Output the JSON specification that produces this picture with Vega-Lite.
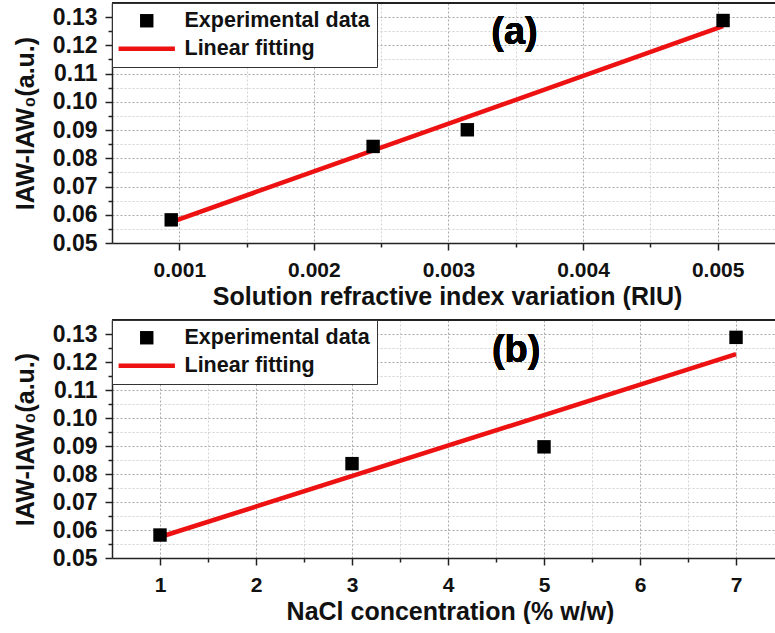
{
  "$schema": "https://vega.github.io/schema/vega-lite/v6.json",
  "padding": {"left": 13, "top": 2, "right": 0, "bottom": 0},
  "spacing": 10,
  "datasets": {
    "a": [
      {"series": "Experimental data", "x": 0.00094, "y": 0.0582},
      {"series": "Experimental data", "x": 0.00244, "y": 0.0842},
      {"series": "Experimental data", "x": 0.00314, "y": 0.0901},
      {"series": "Experimental data", "x": 0.00504, "y": 0.1288},
      {"series": "Linear fitting", "x": 0.00094, "y": 0.0574},
      {"series": "Linear fitting", "x": 0.00504, "y": 0.1268}
    ],
    "b": [
      {"series": "Experimental data", "x": 1, "y": 0.0582},
      {"series": "Experimental data", "x": 3, "y": 0.0837},
      {"series": "Experimental data", "x": 5, "y": 0.0897},
      {"series": "Experimental data", "x": 7, "y": 0.1288},
      {"series": "Linear fitting", "x": 1, "y": 0.0575},
      {"series": "Linear fitting", "x": 7, "y": 0.1228}
    ]
  },
  "vconcat": [
    {
      "width": 668,
      "height": 240,
      "view": {"stroke": null},
      "data": {"name": "a"},
      "encoding": {
        "x": {
          "field": "x", "type": "quantitative",
          "scale": {"domain": [0.0005, 0.005463], "nice": false, "zero": false},
          "axis": {
            "title": "Solution refractive index variation (RIU)",
            "titleX": 335,
            "grid": true,
            "labelOverlap": false,
            "values": [0.001, 0.0015, 0.002, 0.0025, 0.003, 0.0035, 0.004, 0.0045, 0.005],
            "labelExpr": "abs(datum.value*1000 - round(datum.value*1000)) < 0.01 ? format(datum.value, '.3f') : ''",
            "tickSize": {"condition": {"test": "abs(datum.value*1000 - round(datum.value*1000)) < 0.01", "value": 7}, "value": 4},
            "gridColor": {"condition": {"test": "abs(datum.value*1000 - round(datum.value*1000)) < 0.01", "value": "#a8a8a8"}, "value": "#d2d2d2"}
          }
        },
        "y": {
          "field": "y", "type": "quantitative",
          "scale": {"domain": [0.05, 0.135], "nice": false, "zero": false},
          "axis": {
            "title": "IAW-IAW₀(a.u.)",
            "grid": true,
            "labelOverlap": false,
            "values": [0.05, 0.055, 0.06, 0.065, 0.07, 0.075, 0.08, 0.085, 0.09, 0.095, 0.1, 0.105, 0.11, 0.115, 0.12, 0.125, 0.13],
            "labelExpr": "abs(datum.value*100 - round(datum.value*100)) < 0.01 ? format(datum.value, '.2f') : ''",
            "tickSize": {"condition": {"test": "abs(datum.value*100 - round(datum.value*100)) < 0.01", "value": 7}, "value": 4},
            "gridColor": {"condition": {"test": "abs(datum.value*100 - round(datum.value*100)) < 0.01", "value": "#a8a8a8"}, "value": "#d2d2d2"}
          }
        }
      },
      "layer": [
        {
          "transform": [{"filter": "datum.series === 'Linear fitting'"}],
          "mark": {"type": "line", "color": "#ee1111", "strokeWidth": 4.5}
        },
        {
          "transform": [{"filter": "datum.series === 'Experimental data'"}],
          "mark": {"type": "point", "filled": true, "size": 180, "opacity": 1},
          "encoding": {
            "color": {
              "field": "series", "type": "nominal",
              "scale": {"domain": ["Experimental data", "Linear fitting"], "range": ["#000000", "#ee1111"]},
              "legend": {"title": null}
            },
            "shape": {
              "field": "series", "type": "nominal",
              "scale": {"domain": ["Experimental data", "Linear fitting"], "range": ["square", "M-4.2,-0.32H4.2V0.32H-4.2Z"]},
              "legend": {"title": null}
            }
          }
        },
        {
          "mark": {"type": "rule", "color": "#222", "strokeWidth": 1.5},
          "encoding": {"x": null, "y": {"datum": 0.135, "type": "quantitative"}}
        },
        {
          "mark": {"type": "text", "text": "(a)", "fontSize": 38, "fontWeight": "bold", "color": "#000", "align": "center", "baseline": "middle"},
          "encoding": {
            "x": {"datum": 0.00349, "type": "quantitative"},
            "y": {"datum": 0.1245, "type": "quantitative"}
          }
        }
      ]
    },
    {
      "width": 668,
      "height": 238,
      "view": {"stroke": null},
      "data": {"name": "b"},
      "encoding": {
        "x": {
          "field": "x", "type": "quantitative",
          "scale": {"domain": [0.5, 7.458], "nice": false, "zero": false},
          "axis": {
            "title": "NaCl concentration (% w/w)",
            "titleX": 338,
            "grid": true,
            "labelOverlap": false,
            "values": [1, 1.5, 2, 2.5, 3, 3.5, 4, 4.5, 5, 5.5, 6, 6.5, 7],
            "labelExpr": "datum.value % 1 == 0 ? format(datum.value, 'd') : ''",
            "tickSize": {"condition": {"test": "datum.value % 1 == 0", "value": 7}, "value": 4},
            "gridColor": {"condition": {"test": "datum.value % 1 == 0", "value": "#a8a8a8"}, "value": "#d2d2d2"}
          }
        },
        "y": {
          "field": "y", "type": "quantitative",
          "scale": {"domain": [0.05, 0.135], "nice": false, "zero": false},
          "axis": {
            "title": "IAW-IAW₀(a.u.)",
            "grid": true,
            "labelOverlap": false,
            "values": [0.05, 0.055, 0.06, 0.065, 0.07, 0.075, 0.08, 0.085, 0.09, 0.095, 0.1, 0.105, 0.11, 0.115, 0.12, 0.125, 0.13],
            "labelExpr": "abs(datum.value*100 - round(datum.value*100)) < 0.01 ? format(datum.value, '.2f') : ''",
            "tickSize": {"condition": {"test": "abs(datum.value*100 - round(datum.value*100)) < 0.01", "value": 7}, "value": 4},
            "gridColor": {"condition": {"test": "abs(datum.value*100 - round(datum.value*100)) < 0.01", "value": "#a8a8a8"}, "value": "#d2d2d2"}
          }
        }
      },
      "layer": [
        {
          "transform": [{"filter": "datum.series === 'Linear fitting'"}],
          "mark": {"type": "line", "color": "#ee1111", "strokeWidth": 4.5}
        },
        {
          "transform": [{"filter": "datum.series === 'Experimental data'"}],
          "mark": {"type": "point", "filled": true, "size": 180, "opacity": 1},
          "encoding": {
            "color": {
              "field": "series", "type": "nominal",
              "scale": {"domain": ["Experimental data", "Linear fitting"], "range": ["#000000", "#ee1111"]},
              "legend": {"title": null}
            },
            "shape": {
              "field": "series", "type": "nominal",
              "scale": {"domain": ["Experimental data", "Linear fitting"], "range": ["square", "M-4.2,-0.32H4.2V0.32H-4.2Z"]},
              "legend": {"title": null}
            }
          }
        },
        {
          "mark": {"type": "rule", "color": "#222", "strokeWidth": 1.5},
          "encoding": {"x": null, "y": {"datum": 0.135, "type": "quantitative"}}
        },
        {
          "mark": {"type": "text", "text": "(b)", "fontSize": 38, "fontWeight": "bold", "color": "#000", "align": "center", "baseline": "middle"},
          "encoding": {
            "x": {"datum": 4.71, "type": "quantitative"},
            "y": {"datum": 0.1239, "type": "quantitative"}
          }
        }
      ]
    }
  ],
  "resolve": {
    "scale": {"color": "independent", "shape": "independent"},
    "legend": {"color": "independent", "shape": "independent"}
  },
  "config": {
    "view": {"stroke": null},
    "font": "Liberation Sans",
    "axis": {
      "labelFont": "Liberation Sans",
      "labelFontWeight": "bold",
      "labelFontSize": 21,
      "labelColor": "#111",
      "titleFont": "Liberation Sans",
      "titleFontWeight": "bold",
      "titleFontSize": 25,
      "titleColor": "#111",
      "domainColor": "#222",
      "domainWidth": 1.5,
      "tickColor": "#222",
      "tickWidth": 1.5,
      "gridWidth": 1,
      "gridDash": [2, 2],
      "gridOpacity": 1
    },
    "axisX": {"labelPadding": 9, "titlePadding": 4, "labelFlush": false},
    "axisY": {"labelPadding": 8, "titlePadding": 14, "labelFlush": false, "labelFontSize": 23},
    "legend": {
      "orient": "top-left",
      "offset": 0,
      "padding": 7,
      "strokeColor": "#333",
      "fillColor": "#ffffff",
      "cornerRadius": 0,
      "labelFont": "Liberation Sans",
      "labelFontWeight": "bold",
      "labelFontSize": 21.5,
      "labelColor": "#111",
      "labelLimit": 400,
      "symbolSize": 180,
      "symbolOffset": 17,
      "labelOffset": 27,
      "rowPadding": 5,
      "symbolStrokeWidth": 0,
      "symbolOpacity": 1
    }
  }
}
